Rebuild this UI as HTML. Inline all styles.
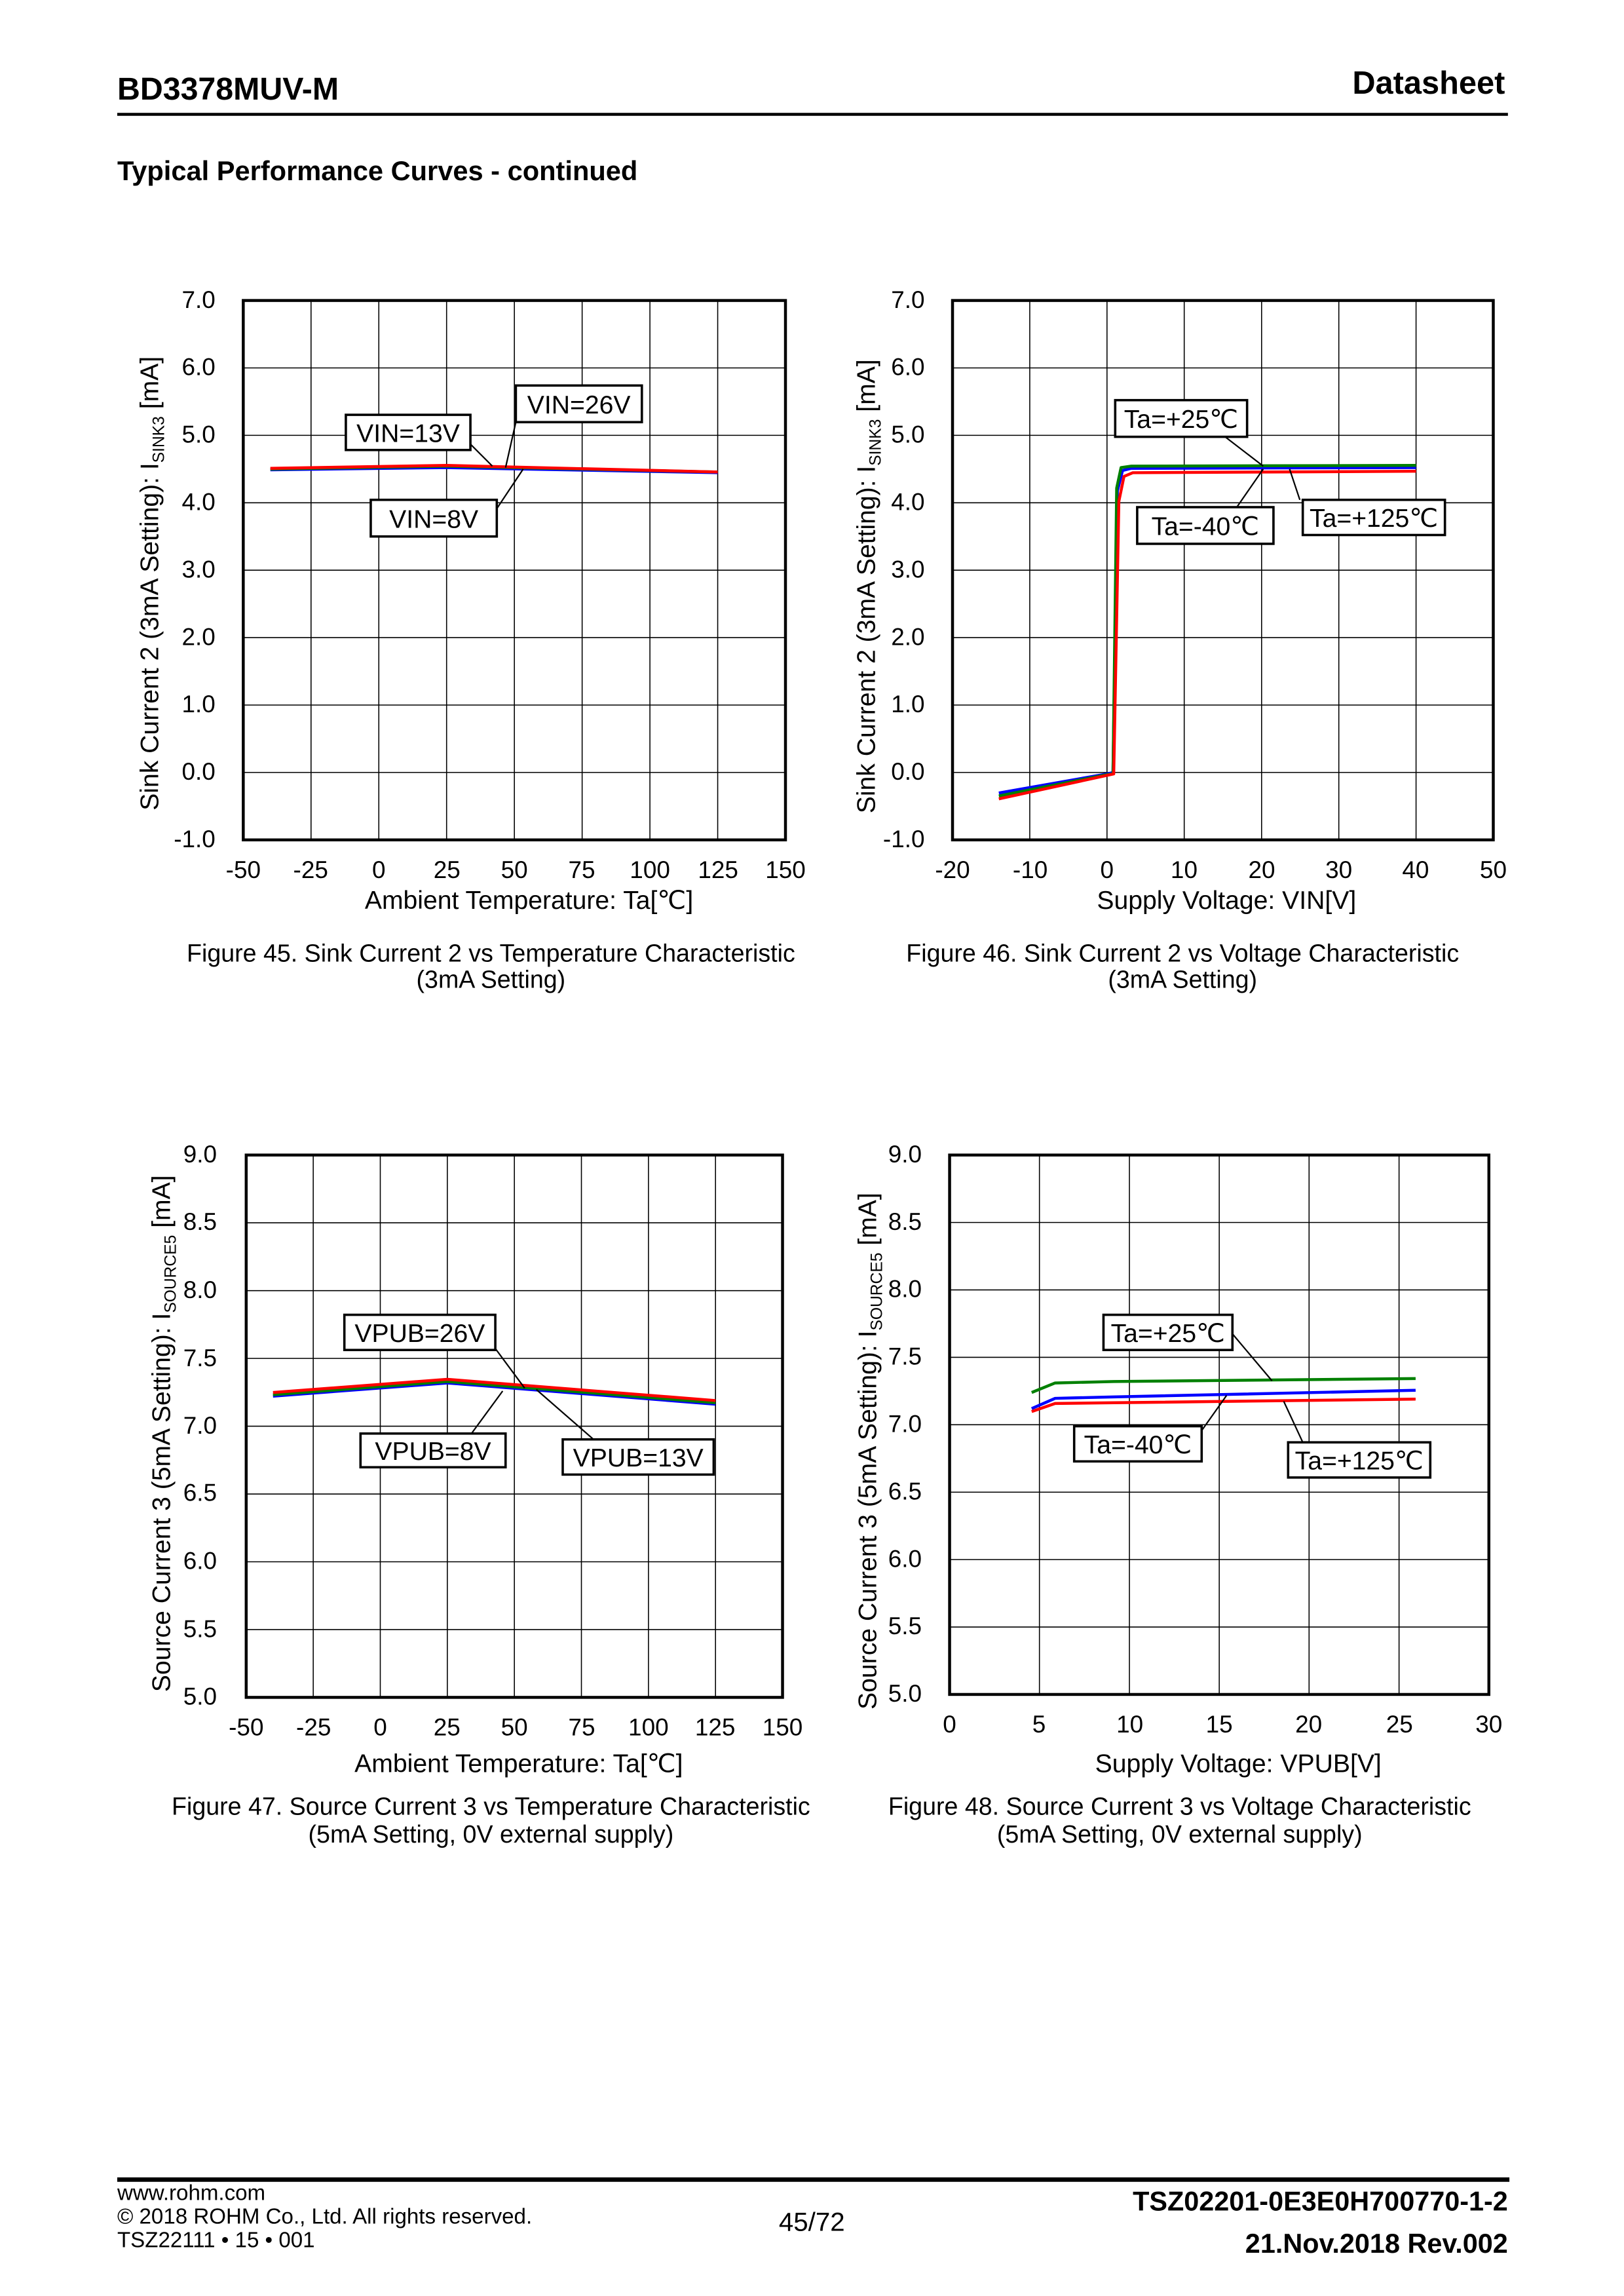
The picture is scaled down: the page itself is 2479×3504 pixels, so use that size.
<!DOCTYPE html>
<html><head><meta charset="utf-8"><style>
html,body{margin:0;padding:0;background:#fff}
svg{display:block}
text{font-family:"Liberation Sans",Arial,sans-serif;fill:#000}
.t{font-size:16.5px}
.a{font-size:17.5px}
.k{font-size:17.5px}
.c{font-size:16.8px}
.g{stroke:#000;stroke-width:0.7;fill:none}
.f{stroke:#000;stroke-width:2;fill:none}
.b{fill:#fff;stroke:#000;stroke-width:1.6}
.l{stroke:#000;stroke-width:1}
.s{fill:none;stroke-width:2;stroke-linejoin:round}
</style></head><body>
<svg width="2479" height="3504" viewBox="0 0 1108.2 1566.4" preserveAspectRatio="none" xmlns="http://www.w3.org/2000/svg">
<rect width="1108.2" height="1566.4" fill="#fff"/>
<text x="80" y="68" font-size="21.6" font-weight="bold">BD3378MUV-M</text>
<text x="1027" y="64" font-size="21.8" font-weight="bold" text-anchor="end">Datasheet</text>
<line x1="80" y1="78" x2="1029" y2="78" stroke="#000" stroke-width="2"/>
<text x="80" y="123" font-size="18.6" font-weight="bold">Typical Performance Curves - continued</text>

<!-- CHART 1 -->
<g>
<path class="g" d="M212.25 205V573M258.5 205V573M304.75 205V573M351 205V573M397.25 205V573M443.5 205V573M489.75 205V573M166 251H536M166 297H536M166 343H536M166 389H536M166 435H536M166 481H536M166 527H536"/>
<rect class="f" x="166" y="205" width="370" height="368"/>
<g class="t" text-anchor="end">
<text x="147" y="210">7.0</text><text x="147" y="256">6.0</text><text x="147" y="302">5.0</text><text x="147" y="348">4.0</text><text x="147" y="394">3.0</text><text x="147" y="440">2.0</text><text x="147" y="486">1.0</text><text x="147" y="532">0.0</text><text x="147" y="578">-1.0</text>
</g>
<g class="t" text-anchor="middle">
<text x="166" y="599">-50</text><text x="212" y="599">-25</text><text x="258.5" y="599">0</text><text x="305" y="599">25</text><text x="351" y="599">50</text><text x="397" y="599">75</text><text x="443.5" y="599">100</text><text x="490" y="599">125</text><text x="536" y="599">150</text>
</g>
<text class="a" x="361" y="620" text-anchor="middle">Ambient Temperature: Ta[℃]</text>
<text class="a" transform="translate(108,398) rotate(-90)" text-anchor="middle">Sink Current 2 (3mA Setting): I<tspan font-size="11" dy="4">SINK3</tspan><tspan dy="-4"> [mA]</tspan></text>
<polyline class="s" stroke="#0000ff" points="184.5,320.5 304.75,319 489.75,322.5"/>
<polyline class="s" stroke="#008000" points="184.5,320 304.75,318 489.75,322"/>
<polyline class="s" stroke="#ff0000" points="184.5,319.5 304.75,317.5 489.75,322"/>
<line class="l" x1="321" y1="303" x2="336" y2="318"/>
<line class="l" x1="352" y1="288" x2="345" y2="319"/>
<line class="l" x1="339" y1="347" x2="357" y2="320"/>
<rect class="b" x="236" y="283" width="85" height="24"/><text class="k" x="278.5" y="301.5" text-anchor="middle">VIN=13V</text>
<rect class="b" x="352" y="263" width="86" height="25"/><text class="k" x="395" y="282" text-anchor="middle">VIN=26V</text>
<rect class="b" x="253" y="341" width="86" height="25"/><text class="k" x="296" y="360" text-anchor="middle">VIN=8V</text>
<text class="c" x="335" y="656" text-anchor="middle">Figure 45. Sink Current 2 vs Temperature Characteristic</text>
<text class="c" x="335" y="674" text-anchor="middle">(3mA Setting)</text>
</g>

<!-- CHART 2 -->
<g>
<path class="g" d="M702.7 205V573M755.4 205V573M808.1 205V573M860.9 205V573M913.6 205V573M966.3 205V573M650 251H1019M650 297H1019M650 343H1019M650 389H1019M650 435H1019M650 481H1019M650 527H1019"/>
<rect class="f" x="650" y="205" width="369" height="368"/>
<g class="t" text-anchor="end">
<text x="631" y="210">7.0</text><text x="631" y="256">6.0</text><text x="631" y="302">5.0</text><text x="631" y="348">4.0</text><text x="631" y="394">3.0</text><text x="631" y="440">2.0</text><text x="631" y="486">1.0</text><text x="631" y="532">0.0</text><text x="631" y="578">-1.0</text>
</g>
<g class="t" text-anchor="middle">
<text x="650" y="599">-20</text><text x="703" y="599">-10</text><text x="755.4" y="599">0</text><text x="808" y="599">10</text><text x="861" y="599">20</text><text x="913.6" y="599">30</text><text x="966" y="599">40</text><text x="1019" y="599">50</text>
</g>
<text class="a" x="837" y="620" text-anchor="middle">Supply Voltage: VIN[V]</text>
<text class="a" transform="translate(597,400) rotate(-90)" text-anchor="middle">Sink Current 2 (3mA Setting): I<tspan font-size="11" dy="4">SINK3</tspan><tspan dy="-4"> [mA]</tspan></text>
<polyline class="s" stroke="#0000ff" points="681.6,541 755.4,528 759.5,527 762.5,335 766,321 772,319.5 966.3,319"/>
<polyline class="s" stroke="#008000" points="681.6,543 755.4,528.5 759.5,528 762,333 765,319 772,318 966.3,317.5"/>
<polyline class="s" stroke="#ff0000" points="681.6,545 755.4,529 760,528 763.5,342 767,325 773,322.5 966.3,321.5"/>
<line class="l" x1="836" y1="298" x2="862" y2="318"/>
<line class="l" x1="844" y1="346" x2="862" y2="320"/>
<line class="l" x1="887" y1="341" x2="880" y2="320"/>
<rect class="b" x="761" y="273" width="90" height="25"/><text class="k" x="806" y="292" text-anchor="middle">Ta=+25℃</text>
<rect class="b" x="776" y="346" width="93" height="25"/><text class="k" x="822.5" y="365" text-anchor="middle">Ta=-40℃</text>
<rect class="b" x="889" y="341" width="97" height="24"/><text class="k" x="937.5" y="359.5" text-anchor="middle">Ta=+125℃</text>
<text class="c" x="807" y="656" text-anchor="middle">Figure 46. Sink Current 2 vs Voltage Characteristic</text>
<text class="c" x="807" y="674" text-anchor="middle">(3mA Setting)</text>
</g>

<!-- CHART 3 -->
<g>
<path class="g" d="M213.75 788V1158M259.5 788V1158M305.25 788V1158M351 788V1158M396.75 788V1158M442.5 788V1158M488.25 788V1158M168 834.25H534M168 880.5H534M168 926.75H534M168 973H534M168 1019.25H534M168 1065.5H534M168 1111.75H534"/>
<rect class="f" x="168" y="788" width="366" height="370"/>
<g class="t" text-anchor="end">
<text x="148" y="793">9.0</text><text x="148" y="839">8.5</text><text x="148" y="885.5">8.0</text><text x="148" y="932">7.5</text><text x="148" y="978">7.0</text><text x="148" y="1024">6.5</text><text x="148" y="1070.5">6.0</text><text x="148" y="1117">5.5</text><text x="148" y="1163">5.0</text>
</g>
<g class="t" text-anchor="middle">
<text x="168" y="1184">-50</text><text x="214" y="1184">-25</text><text x="259.5" y="1184">0</text><text x="305" y="1184">25</text><text x="351" y="1184">50</text><text x="397" y="1184">75</text><text x="442.5" y="1184">100</text><text x="488" y="1184">125</text><text x="534" y="1184">150</text>
</g>
<text class="a" x="354" y="1209" text-anchor="middle">Ambient Temperature: Ta[℃]</text>
<text class="a" transform="translate(116,978) rotate(-90)" text-anchor="middle">Source Current 3 (5mA Setting): I<tspan font-size="11" dy="4">SOURCE5</tspan><tspan dy="-4"> [mA]</tspan></text>
<polyline class="s" stroke="#0000ff" points="186.3,952.5 305.25,943.5 488.25,958"/>
<polyline class="s" stroke="#008000" points="186.3,951.5 305.25,942.5 488.25,957"/>
<polyline class="s" stroke="#ff0000" points="186.3,950 305.25,941 488.25,955.5"/>
<line class="l" x1="338" y1="920" x2="358" y2="947"/>
<line class="l" x1="405" y1="982" x2="366" y2="948"/>
<line class="l" x1="321" y1="979" x2="343" y2="949"/>
<rect class="b" x="235" y="897" width="103" height="24"/><text class="k" x="286.5" y="915.5" text-anchor="middle">VPUB=26V</text>
<rect class="b" x="246" y="978" width="99" height="23"/><text class="k" x="295.5" y="996" text-anchor="middle">VPUB=8V</text>
<rect class="b" x="384" y="982" width="103" height="24"/><text class="k" x="435.5" y="1000.5" text-anchor="middle">VPUB=13V</text>
<text class="c" x="335" y="1238" text-anchor="middle">Figure 47. Source Current 3 vs Temperature Characteristic</text>
<text class="c" x="335" y="1257" text-anchor="middle">(5mA Setting, 0V external supply)</text>
</g>

<!-- CHART 4 -->
<g>
<path class="g" d="M709.3 788V1156M770.7 788V1156M832 788V1156M893.3 788V1156M954.7 788V1156M648 834H1016M648 880H1016M648 926H1016M648 972H1016M648 1018H1016M648 1064H1016M648 1110H1016"/>
<rect class="f" x="648" y="788" width="368" height="368"/>
<g class="t" text-anchor="end">
<text x="629" y="793">9.0</text><text x="629" y="839">8.5</text><text x="629" y="885">8.0</text><text x="629" y="931">7.5</text><text x="629" y="977">7.0</text><text x="629" y="1023">6.5</text><text x="629" y="1069">6.0</text><text x="629" y="1115">5.5</text><text x="629" y="1161">5.0</text>
</g>
<g class="t" text-anchor="middle">
<text x="648" y="1182">0</text><text x="709" y="1182">5</text><text x="771" y="1182">10</text><text x="832" y="1182">15</text><text x="893" y="1182">20</text><text x="955" y="1182">25</text><text x="1016" y="1182">30</text>
</g>
<text class="a" x="845" y="1209" text-anchor="middle">Supply Voltage: VPUB[V]</text>
<text class="a" transform="translate(598,990) rotate(-90)" text-anchor="middle">Source Current 3 (5mA Setting): I<tspan font-size="11" dy="4">SOURCE5</tspan><tspan dy="-4"> [mA]</tspan></text>
<polyline class="s" stroke="#008000" points="704,950 720,943.5 760,942.5 966,940.5"/>
<polyline class="s" stroke="#0000ff" points="704,961 720,954 760,953 966,948.5"/>
<polyline class="s" stroke="#ff0000" points="704,963 720,957.5 760,957 966,954.5"/>
<line class="l" x1="841" y1="910" x2="868" y2="942"/>
<line class="l" x1="820" y1="976" x2="837" y2="952"/>
<line class="l" x1="889" y1="984" x2="876" y2="956"/>
<rect class="b" x="753" y="897" width="88" height="24"/><text class="k" x="797" y="915.5" text-anchor="middle">Ta=+25℃</text>
<rect class="b" x="733" y="973" width="87" height="24"/><text class="k" x="776.5" y="991.5" text-anchor="middle">Ta=-40℃</text>
<rect class="b" x="879" y="984" width="97" height="24"/><text class="k" x="927.5" y="1002.5" text-anchor="middle">Ta=+125℃</text>
<text class="c" x="805" y="1238" text-anchor="middle">Figure 48. Source Current 3 vs Voltage Characteristic</text>
<text class="c" x="805" y="1257" text-anchor="middle">(5mA Setting, 0V external supply)</text>
</g>

<line x1="80" y1="1487" x2="1030" y2="1487" stroke="#000" stroke-width="3"/>
<text x="80" y="1501" font-size="14.8">www.rohm.com</text>
<text x="80" y="1517" font-size="14.8">© 2018 ROHM Co., Ltd. All rights reserved.</text>
<text x="80" y="1533" font-size="14.8">TSZ22111 • 15 • 001</text>
<text x="554" y="1522" font-size="18" text-anchor="middle">45/72</text>
<text x="1029" y="1508" font-size="18.5" font-weight="bold" text-anchor="end">TSZ02201-0E3E0H700770-1-2</text>
<text x="1029" y="1537" font-size="18.5" font-weight="bold" text-anchor="end">21.Nov.2018 Rev.002</text>
</svg>
</body></html>
